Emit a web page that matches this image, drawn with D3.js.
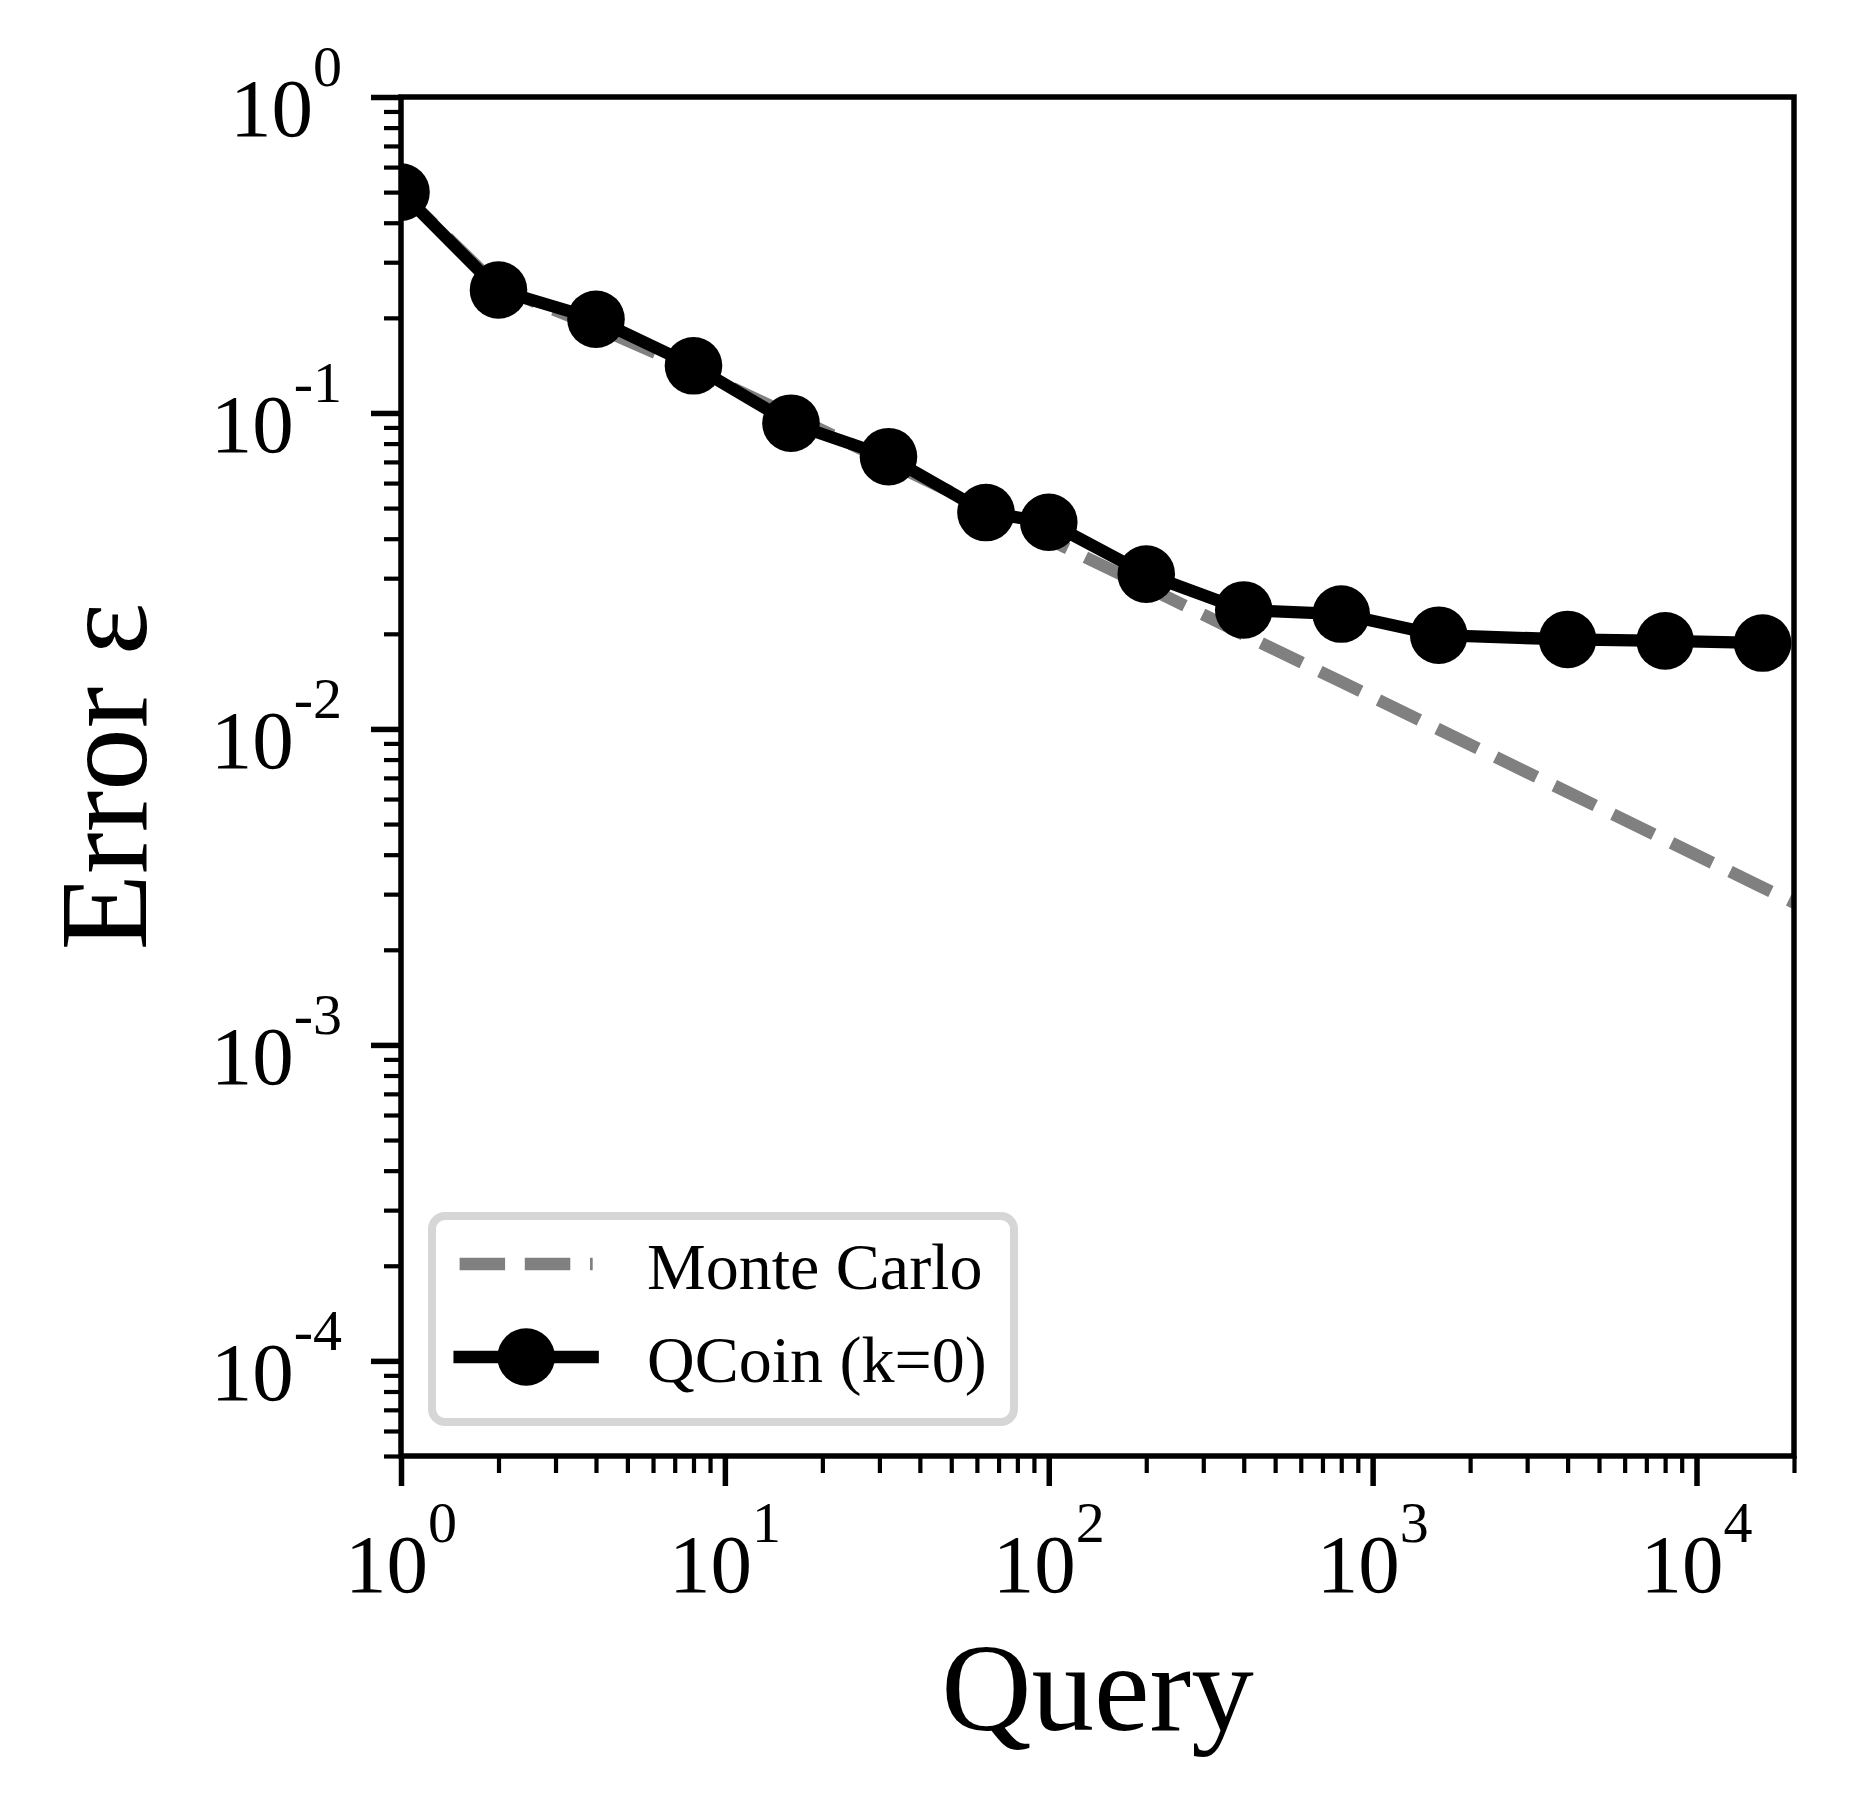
<!DOCTYPE html>
<html>
<head>
<meta charset="utf-8">
<script src="https://cdn.jsdelivr.net/npm/d3@7"></script>
<style>
  html, body { margin: 0; padding: 0; background: #fff; }
  svg { display: block; }
  text { font-family: "Liberation Serif", "Times New Roman", serif; fill: #000; }
</style>
</head>
<body>
<svg id="chart" width="1857" height="1817"></svg>
<script>
// ---- data ----
const queriesQCoin = [1, 2, 4, 8, 16, 32, 64, 100, 200, 400, 800, 1600, 4000, 8000, 16000];
const errorQCoin   = [0.5, 0.245, 0.198, 0.141, 0.0928, 0.0727, 0.0484, 0.0451, 0.0309, 0.0238, 0.0231, 0.0198, 0.0192, 0.0190, 0.0187];
const queriesMC    = [1, 2, 4, 8, 16, 32, 64, 100, 200, 400, 800, 1600, 4000, 8000, 16000, 20000];
const errorMC      = [0.5, 0.25, 0.1875, 0.137, 0.0982, 0.070, 0.0497, 0.0398, 0.0282, 0.0199, 0.0141, 0.00997, 0.00631, 0.00446, 0.00315, 0.00282];
const xMajorTicks  = [1, 10, 100, 1000, 10000];
const xTickExp     = ["0", "1", "2", "3", "4"];
const yMajorTicks  = [1, 0.1, 0.01, 0.001, 0.0001];
const yTickExp     = ["0", "-1", "-2", "-3", "-4"];
const seriesNames  = ["Monte Carlo", "QCoin (k=0)"];
const xLabel = "Query";
const yLabel = "Error \u03b5";

// ---- layout ----
const L = 401, R = 1794, T = 97, B = 1456;
const svg = d3.select("#chart");

const x = d3.scaleLog().domain([1, 20000]).range([L, R]);
const y = d3.scaleLog().domain([5e-5, 1]).range([B, T]);

function minorTicks(lo, hi, emin, emax) {
  const out = [];
  for (let e = emin; e <= emax; e++) {
    for (let k = 2; k <= 9; k++) {
      const v = k * Math.pow(10, e);
      if (v >= lo * 0.9999 && v <= hi * 1.0001) out.push(v);
    }
  }
  return out;
}
const xMinor = minorTicks(1, 20000, 0, 4);
const yMinor = minorTicks(5e-5, 1, -5, -1);

svg.append("defs").append("clipPath").attr("id", "plotclip")
  .append("rect").attr("x", L).attr("y", T).attr("width", R - L).attr("height", B - T);

// ---- axes ticks ----
function styleAxis(g, w) {
  g.select(".domain").remove();
  g.selectAll(".tick line").attr("stroke", "#000").attr("stroke-width", w);
  g.selectAll(".tick text").remove();
}
const gxMinor = svg.append("g").attr("transform", `translate(0,${B})`)
  .call(d3.axisBottom(x).tickValues(xMinor).tickSize(17).tickSizeOuter(0).tickFormat(() => ""));
styleAxis(gxMinor, 4.2);
const gxMajor = svg.append("g").attr("transform", `translate(0,${B})`)
  .call(d3.axisBottom(x).tickValues(xMajorTicks).tickSize(30).tickSizeOuter(0).tickFormat(() => ""));
styleAxis(gxMajor, 5.5);
const gyMinor = svg.append("g").attr("transform", `translate(${L},0)`)
  .call(d3.axisLeft(y).tickValues(yMinor).tickSize(17).tickSizeOuter(0).tickFormat(() => ""));
styleAxis(gyMinor, 4.2);
const gyMajor = svg.append("g").attr("transform", `translate(${L},0)`)
  .call(d3.axisLeft(y).tickValues(yMajorTicks).tickSize(30).tickSizeOuter(0).tickFormat(() => ""));
styleAxis(gyMajor, 5.5);

// tick labels (10 with superscript)
const tickFont = 83, supFont = 58, supRaise = 50;
xMajorTicks.forEach((v, i) => {
  const t = svg.append("text").attr("x", x(v)).attr("y", 1592)
    .attr("text-anchor", "middle").style("font-size", tickFont + "px");
  t.append("tspan").text("10");
  t.append("tspan").attr("dy", -supRaise).style("font-size", supFont + "px").text(xTickExp[i]);
});
yMajorTicks.forEach((v, i) => {
  const t = svg.append("text").attr("x", 342).attr("y", y(v) + 39)
    .attr("text-anchor", "end").style("font-size", tickFont + "px");
  t.append("tspan").text("10");
  t.append("tspan").attr("dy", -supRaise).style("font-size", supFont + "px").text(yTickExp[i]);
});

// ---- series ----
const plot = svg.append("g").attr("clip-path", "url(#plotclip)");
const mcData = queriesMC.map((q, i) => [q, errorMC[i]]);
const qcData = queriesQCoin.map((q, i) => [q, errorQCoin[i]]);
const line = d3.line().x(d => x(d[0])).y(d => y(d[1]));

const LW = 12.3, DASH = "45.5,19.7", MR = 28.8;
plot.append("path").attr("d", line(mcData))
  .attr("fill", "none").attr("stroke", "#808080").attr("stroke-width", LW)
  .attr("stroke-dasharray", DASH).attr("stroke-linejoin", "round");
plot.append("path").attr("d", line(qcData))
  .attr("fill", "none").attr("stroke", "#000").attr("stroke-width", LW)
  .attr("stroke-linejoin", "round").attr("stroke-linecap", "square");
plot.selectAll("circle.pt").data(qcData).enter().append("circle")
  .attr("class", "pt").attr("cx", d => x(d[0])).attr("cy", d => y(d[1]))
  .attr("r", MR).attr("fill", "#000");

// ---- spines ----
svg.append("rect").attr("x", L).attr("y", T).attr("width", R - L).attr("height", B - T)
  .attr("fill", "none").attr("stroke", "#000").attr("stroke-width", 5.5);

// ---- axis labels ----
svg.append("text").attr("x", (L + R) / 2).attr("y", 1730).attr("text-anchor", "middle")
  .style("font-size", "125px").text(xLabel);
svg.append("text").attr("transform", `translate(146,${(T + B) / 2}) rotate(-90)`)
  .attr("text-anchor", "middle").style("font-size", "125px").text(yLabel);

// ---- legend ----
const lg = svg.append("g");
lg.append("rect").attr("x", 432).attr("y", 1216).attr("width", 582).attr("height", 206)
  .attr("rx", 13).attr("ry", 13)
  .attr("fill", "#fff").attr("fill-opacity", 0.8)
  .attr("stroke", "#d6d6d6").attr("stroke-width", 8);
const hx0 = 459.6, hx1 = 592.7;
const rowsY = [1264, 1357];
lg.append("line").attr("x1", hx0).attr("x2", hx1).attr("y1", rowsY[0]).attr("y2", rowsY[0])
  .attr("stroke", "#808080").attr("stroke-width", LW).attr("stroke-dasharray", DASH);
lg.append("line").attr("x1", hx0).attr("x2", hx1).attr("y1", rowsY[1]).attr("y2", rowsY[1])
  .attr("stroke", "#000").attr("stroke-width", LW).attr("stroke-linecap", "square");
lg.append("circle").attr("cx", (hx0 + hx1) / 2).attr("cy", rowsY[1]).attr("r", MR).attr("fill", "#000");
seriesNames.forEach((name, i) => {
  lg.append("text").attr("x", 647).attr("y", rowsY[i] + 24.5)
    .style("font-size", "66px").text(name);
});
</script>
</body>
</html>
